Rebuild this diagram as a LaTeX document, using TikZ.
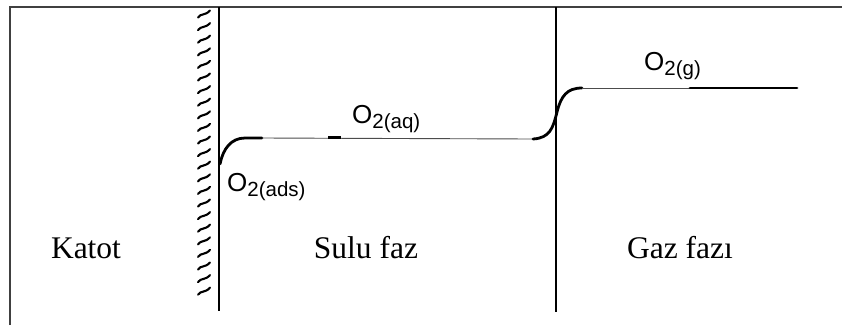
\documentclass[tikz,border=0pt]{standalone}
\usepackage{fontspec}
\setmainfont{Liberation Serif}
\newfontfamily\osans{Liberation Sans}
\tikzset{
  frameline/.style={draw=black!75, line width=1.3pt},
  wall/.style={draw=black, line width=2.6pt},
  thinc/.style={draw=black!70, line width=0.9pt},
  thickc/.style={draw=black, line width=2.8pt, line cap=round},
  hatchmark/.style={draw=black, line width=2.1pt, line cap=round},
  phase/.style={font=\fontsize{31.5}{32}\selectfont, anchor=base, inner sep=0pt},
  species/.style={anchor=base west, inner sep=0pt},
}
\newcommand{\spec}[1]{{\osans\fontsize{26}{26}\selectfont O\raisebox{-5pt}{\fontsize{20.5}{21}\selectfont #1}}}
\begin{document}
\begin{tikzpicture}[x=1pt,y=-1pt]
\useasboundingbox (0,0) rectangle (842,325);
% frame
\coordinate (ftl) at (10,7);
\coordinate (ftr) at (842,7);
\coordinate (fbl) at (10,325);
\draw[frameline] (fbl) -- (ftl) -- (ftr);
% cathode wall
\coordinate (cTop) at (219,7);
\coordinate (cBot) at (219,311);
\draw[wall] (cTop) -- (cBot);
% hatching
\foreach \i in {0,...,22}{
  \pgfmathsetmacro{\yy}{14+12.6*\i}
  \draw[hatchmark] (198,\yy+3.5) .. controls (201,\yy-1) and (205,\yy+2) .. (210,\yy-3.5);
}
% liquid/gas boundary
\coordinate (bTop) at (556,7);
\coordinate (bBot) at (556,312);
\draw[line width=2.2pt] (bTop) -- (bBot);
% concentration profile
\coordinate (p0) at (220,164);
\coordinate (p1) at (262,138);
\coordinate (p2) at (533,139);
\coordinate (p3) at (557,112);
\coordinate (p4) at (582,88);
\coordinate (p5) at (690,88);
\coordinate (p6) at (797,88);
\draw[thickc] (p0) .. controls (223,149) and (231,138) .. (245,138) -- (p1);
\draw[thinc] (p1) -- (p2);
\draw[line width=2.4pt] (328,137.6) -- (341,137.6);
\draw[thickc] (p2) .. controls (550,138) and (553,128) .. (p3) .. controls (561,96) and (567,88) .. (p4);
\draw[thinc] (p4) -- (p5);
\draw[thickc] (p5) -- (p6);
% labels
\node[species] (ads) at (227,191) {\spec{2(ads)}};
\node[species] (aq) at (352,123) {\spec{2(aq)}};
\node[species] (g) at (644,70) {\spec{2(g)}};
\node[phase] (katot) at (86,258) {Katot};
\node[phase] (sulu) at (366,258) {Sulu faz};
\node[phase] (gaz) at (680,258) {Gaz fazı};
\end{tikzpicture}
\end{document}
